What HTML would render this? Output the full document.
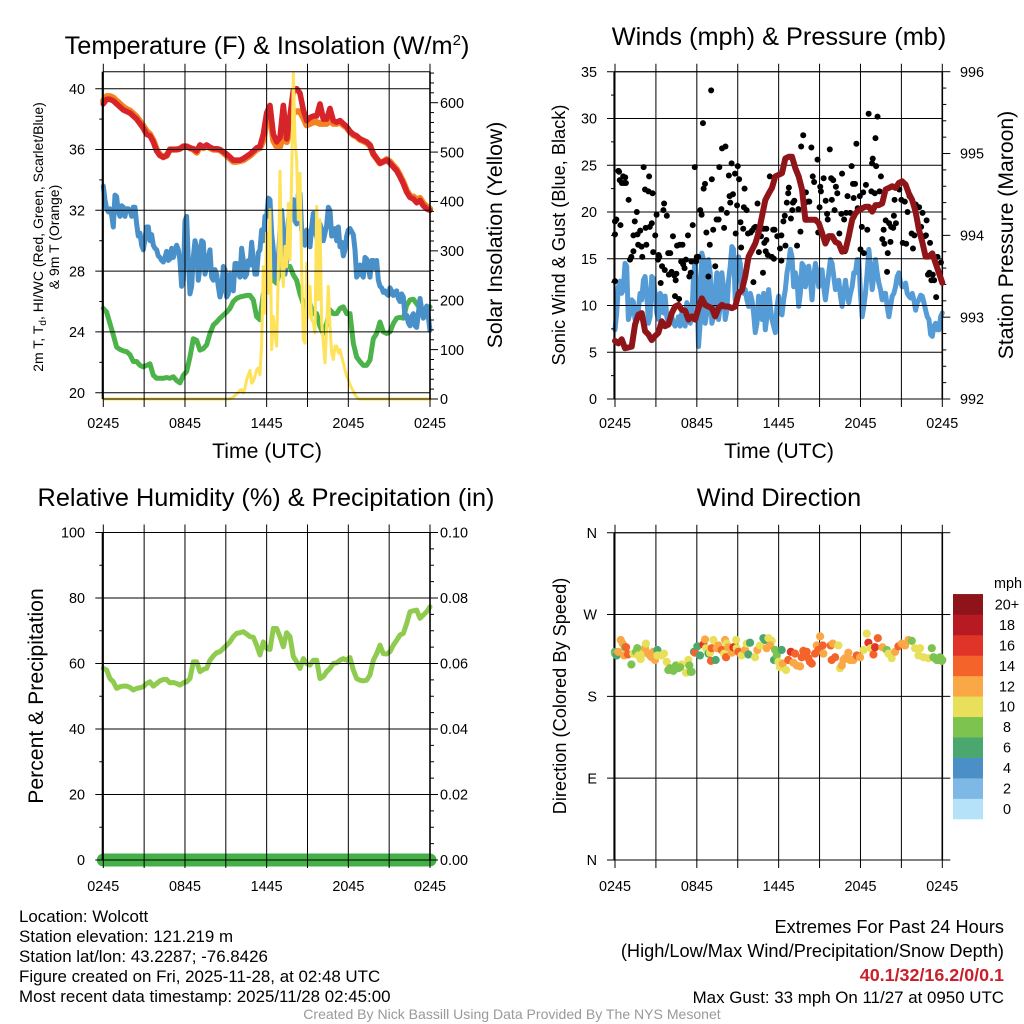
<!DOCTYPE html>
<html lang="en">
<head>
<meta charset="utf-8">
<title>Wolcott Mesonet Meteogram</title>
<style>
html,body{margin:0;padding:0;background:#fff;}
svg{display:block;font-family:"Liberation Sans",Arial,sans-serif;fill:#000;}
.title{font-size:25.3px;text-anchor:middle;}
.axt{font-size:21.2px;text-anchor:middle;}
.axs{font-size:18.2px;text-anchor:middle;}
.foot{font-size:16.9px;}
.tr{font-size:18.2px;text-anchor:end;}
.tick{font-size:14.4px;}
</style>
</head>
<body>
<svg id="chart" xmlns="http://www.w3.org/2000/svg" width="1024" height="1024" viewBox="0 0 1024 1024">
<rect x="0" y="0" width="1024" height="1024" fill="#fff"/>

<g id="p1"></g>
<g id="p2"></g>
<g id="p3"></g>
<g id="p4"></g>
<g id="legend"></g>

<text class="title" x="267" y="54">Temperature (F) &amp; Insolation (W/m<tspan dy="-9" font-size="15">2</tspan><tspan dy="9">)</tspan></text>
<text class="title" x="779" y="45">Winds (mph) &amp; Pressure (mb)</text>
<text class="title" x="266" y="506">Relative Humidity (%) &amp; Precipitation (in)</text>
<text class="title" x="779" y="506">Wind Direction</text>

<text class="axt" x="267" y="458">Time (UTC)</text>
<text class="axt" x="779" y="458">Time (UTC)</text>

<text font-size="14" text-anchor="middle" transform="translate(43,237) rotate(-90)">2m T, T<tspan dy="3" font-size="10">d</tspan><tspan dy="-3">, HI/WC (Red, Green, Scarlet/Blue)</tspan></text>
<text font-size="14" text-anchor="middle" transform="translate(59,237) rotate(-90)">&amp; 9m T (Orange)</text>
<text class="axt" transform="translate(502,235) rotate(-90)">Solar Insolation (Yellow)</text>
<text class="axs" transform="translate(565,235) rotate(-90)">Sonic Wind &amp; Gust (Blue, Black)</text>
<text class="axt" transform="translate(1013,235) rotate(-90)">Station Pressure (Maroon)</text>
<text class="axt" transform="translate(43,696) rotate(-90)">Percent &amp; Precipitation</text>
<text class="axs" transform="translate(566,696) rotate(-90)">Direction (Colored By Speed)</text>

<g>
<text class="foot" x="19" y="922">Location: Wolcott</text>
<text class="foot" x="19" y="942">Station elevation: 121.219 m</text>
<text class="foot" x="19" y="962">Station lat/lon: 43.2287; -76.8426</text>
<text class="foot" x="19" y="982">Figure created on Fri, 2025-11-28, at 02:48 UTC</text>
<text class="foot" x="19" y="1002">Most recent data timestamp: 2025/11/28 02:45:00</text>
</g>
<g>
<text class="tr" x="1004" y="933">Extremes For Past 24 Hours</text>
<text class="tr" x="1004" y="957">(High/Low/Max Wind/Precipitation/Snow Depth)</text>
<text class="tr" x="1004" y="981" font-weight="bold" style="fill:#c9202b;font-size:17.9px">40.1/32/16.2/0/0.1</text>
<text class="tr" x="1004" y="1003" style="font-size:16.9px">Max Gust: 33 mph On 11/27 at 0950 UTC</text>
</g>
<text x="512" y="1019" text-anchor="middle" font-size="14.05" style="fill:#999">Created By Nick Bassill Using Data Provided By The NYS Mesonet</text>

<script>
// ---- Shared time axis (hours since start of window) ----
const timeSpanHours = 24;
const gridHours = [0,3,6,9,12,15,18,21,24];
const timeLabelHours = [0,6,12,18,24];
const timeLabels = ['0245','0845','1445','2045','0245'];

// ---- Temperature panel series ----
const airTemp = [39.0,39.3,39.3,39.2,39.0,38.8,38.6,38.5,38.4,38.2,38.0,37.7,37.4,37.0,36.9,36.5,35.9,35.6,35.5,35.6,36.0,36.0,36.0,36.05,36.2,36.2,36.1,36.05,35.9,36.3,36.15,36.3,36.15,36.05,36.05,36.0,35.85,35.7,35.5,35.3,35.3,35.3,35.4,35.55,35.7,35.9,36.1,36.2,37.0,38.4,38.9,37.0,36.5,36.8,38.9,36.7,38.2,39.9,40.0,39.7,38.6,37.9,38.1,38.2,38.2,39.0,38.0,38.0,38.7,37.9,37.8,37.9,37.7,37.5,37.2,37.0,36.9,36.7,36.6,36.5,36.3,35.7,35.4,35.1,35.2,35.3,35.1,34.85,34.6,34.2,33.75,33.2,32.85,32.75,32.5,32.65,32.3,32.1,32.0];
const temp9m = [39.2,39.5,39.5,39.4,39.2,39.0,38.8,38.65,38.55,38.35,38.15,37.85,37.55,37.2,37.0,36.6,36.0,35.65,35.5,35.6,36.0,36.0,36.0,36.05,36.2,36.2,36.1,36.0,35.8,36.2,36.1,36.25,36.1,36.0,36.0,35.95,35.8,35.6,35.4,35.2,35.2,35.25,35.3,35.45,35.6,35.8,36.0,36.1,36.6,37.9,38.5,36.6,36.2,36.2,37.0,36.5,37.3,38.5,38.5,38.5,38.1,37.6,37.7,37.8,37.8,37.7,37.7,37.7,37.9,37.7,37.7,37.8,37.6,37.45,37.15,36.95,36.85,36.65,36.55,36.45,36.25,35.7,35.4,35.1,35.2,35.35,35.2,34.95,34.7,34.3,33.85,33.3,32.95,32.9,32.7,32.8,32.45,32.25,32.1];
const windChill = [33.6,32.7,32.1,31.9,32.1,31.7,30.9,33.0,32.9,31.9,31.6,32.3,32.2,31.6,32.1,32.1,32.0,31.6,32.2,32.2,31.1,30.3,30.5,29.7,29.4,30.1,30.9,30.9,30.0,30.4,29.7,29.5,29.4,29.0,28.9,28.7,28.6,28.9,29.3,28.7,28.8,29.5,28.9,29.4,29.7,29.4,28.7,27.0,27.4,31.3,31.6,28.7,26.5,27.0,28.9,30.0,29.6,27.4,28.3,30.0,29.9,27.8,28.3,28.9,29.4,27.6,27.4,28.1,27.8,27.0,26.3,26.7,28.3,28.1,26.3,26.5,27.8,27.4,26.7,28.5,28.5,27.8,27.6,29.5,28.7,27.6,27.8,28.7,28.4,29.9,28.7,27.8,27.8,29.2,29.4,30.7,30.0,31.6,31.6,32.8,32.7,30.5,29.4,27.8,27.4,28.7,30.7,32.0,30.5,27.8,28.7,31.3,32.0,32.4,32.7,31.3,31.1,33.1,33.1,30.7,30.3,29.7,30.7,30.5,29.6,30.9,31.8,30.5,30.3,29.6,31.1,30.7,30.0,30.5,31.0,32.2,32.0,30.3,30.5,30.8,30.0,30.9,29.6,29.9,29.0,29.4,30.3,30.7,30.8,30.6,30.4,29.4,27.6,27.8,28.4,27.8,27.6,28.9,28.8,28.2,27.6,28.7,28.7,28.2,28.7,27.4,27.0,26.9,26.6,26.7,26.5,26.4,26.9,26.7,26.4,26.6,26.7,26.2,26.0,26.5,26.3,25.0,25.1,24.6,24.4,25.0,25.2,24.4,24.3,25.2,26.2,25.5,24.9,25.2,25.7,25.0,24.1];
const dewPoint = [25.55,25.3,24.55,23.8,23.0,22.85,22.75,22.7,22.5,22.05,22.05,21.8,21.7,21.8,21.9,21.15,20.95,20.95,20.95,21.0,20.95,21.05,20.8,20.65,21.15,21.4,22.35,23.55,23.45,22.8,22.9,23.15,23.9,24.45,24.65,24.9,25.1,25.3,25.55,26.0,26.2,26.3,26.35,26.4,26.4,26.1,25.0,24.8,26.5,26.95,27.85,27.4,27.2,28.05,28.3,28.3,28.3,27.75,27.4,26.5,25.85,25.0,25.85,25.2,25.2,24.35,23.9,24.55,25.45,25.2,25.2,25.55,25.65,25.2,25.2,23.25,22.35,22.05,21.8,21.8,22.15,23.55,23.9,24.65,24.0,23.9,24.0,24.55,24.9,24.95,24.9,25.75,26.1,26.15,25.85,25.55,25.45,25.55,25.65];
const solarInsolation = [0,0,0,0,0,0,0,0,0,0,0,0,0,0,0,0,0,0,0,0,
0,0,0,0,0,0,0,0,0,0,0,0,0,0,0,0,0,0,0,0,
0,0,0,0,0,0,0,0,0,0,0,0,0,0,0,0,0,0,0,0,
0,0,0,0,0,0,0,0,0,0,0,0,0,0,0,0,
1,2,4,7,10,13,18,19,12,22,39,49,58,32,36,46,59,63,49,113,268,174,336,214,383,100,167,134,107,255,461,268,228,309,268,396,282,450,659,525,484,363,457,268,120,113,275,167,228,160,155,134,390,201,363,155,113,73,147,228,147,93,80,107,107,93,100,86,73,59,46,39,29,22,16,9,4,1,
0,0,0,0,0,0,0,0,0,0,0,0,0,0,0,0,0,0,0,0,0,0,0,0,0,0,0,0,0,0,0,0,0,0,0,0,0,0,0,0,0,0,0];

const tempTicks = [20,24,28,32,36,40];
const tempMinorTicks = [22,26,30,34,38];
const solarTicks = [0,100,200,300,400,500,600];
const solarMinorTicks = [20,40,60,80,120,140,160,180,220,240,260,280,320,340,360,380,420,440,460,480,520,540,560,580,620,640,660];

// ---- Winds panel series ----
const windSpeed = [7.4,9.2,12.0,12.6,11.3,11.7,14.5,14.2,8.5,9.2,10.6,10.4,8.5,8.5,9.5,11.3,10.6,12.7,13.1,11.3,8.1,8.8,13.1,12.9,11.3,9.2,8.5,11.3,11.0,9.2,11.0,8.8,8.1,8.7,8.8,8.1,7.8,8.1,8.8,7.8,9.2,8.8,7.8,10.3,9.9,8.1,8.5,13.1,14.9,12.0,5.6,8.1,15.6,14.9,8.1,9.2,14.9,13.5,8.1,8.8,11.7,13.5,8.5,9.9,13.5,12.0,8.5,9.5,12.7,14.2,16.3,16.0,10.6,13.5,15.2,14.5,11.7,11.3,11.7,10.6,9.9,11.3,10.6,9.2,7.1,8.1,11.0,8.8,8.5,11.3,7.4,8.8,11.7,9.9,8.5,7.8,7.1,9.9,11.0,9.2,9.0,10.6,11.7,13.5,14.5,16.0,15.2,12.0,13.5,12.7,9.9,11.3,14.5,14.2,12.0,13.5,14.2,12.7,10.6,13.1,14.5,13.5,12.0,13.8,13.8,12.0,10.6,12.0,13.5,14.9,14.5,13.1,11.7,12.4,12.7,11.0,9.9,11.3,12.7,11.3,10.3,11.3,12.0,13.5,13.5,14.9,14.9,11.3,8.8,9.9,11.3,13.5,16.0,14.2,11.7,13.1,14.9,13.5,12.4,11.7,10.6,11.3,11.3,9.9,8.8,9.9,11.0,11.3,12.0,13.1,13.5,12.4,12.0,12.0,12.4,11.3,11.0,10.8,11.3,10.6,9.5,10.3,10.6,11.1,11.0,10.3,9.5,8.8,8.5,6.9,6.7,7.8,8.1,7.4,7.4,8.8,9.2];
const stationPressure = [992.71,992.68,992.73,992.62,992.63,992.64,992.91,993.03,993.05,992.83,992.79,992.72,992.77,992.81,992.95,992.89,992.91,993.05,993.13,993.15,993.09,993.08,992.97,993.01,992.97,993.11,993.23,993.15,993.13,993.11,993.01,993.11,993.15,993.13,993.13,993.11,993.13,993.29,993.33,993.50,993.74,993.82,993.90,994.03,994.23,994.43,994.51,994.58,994.72,994.74,994.76,994.94,994.96,994.96,994.82,994.72,994.56,994.19,994.19,994.19,994.19,994.15,994.03,993.90,993.99,993.99,993.92,993.90,993.80,993.82,993.99,994.19,994.27,994.31,994.33,994.35,994.35,994.29,994.37,994.37,994.39,994.56,994.58,994.60,994.58,994.64,994.66,994.62,994.51,994.43,994.29,994.07,993.92,993.74,993.74,993.78,993.66,993.54,993.42];
const gustHours = [0,0,0,.1,.25,.3,.4,.35,.5,.6,.75,.65,.8,1.0,
1.1,1.2,1.35,1.35,1.45,1.6,1.65,1.85,1.7,1.95,2.0,2.1,
2.2,2.25,2.3,2.45,2.5,2.55,2.7,2.75,2.8,2.95,3.05,
3.15,3.2,3.25,3.35,3.45,3.55,3.6,3.65,3.8,3.95,3.9,
4.05,4.15,4.25,4.35,4.45,4.4,4.5,4.55,4.7,4.75,4.85,4.95,
5.0,5.1,5.2,5.35,5.45,5.55,5.7,5.6,5.85,6.0,5.95,
6.1,6.25,6.35,6.45,6.5,6.6,6.7,6.85,6.95,7.05,
7.1,7.2,7.35,7.45,7.65,7.6,7.8,7.85,8.0,8.1,
8.2,8.35,8.4,8.45,8.55,8.65,8.8,8.85,8.95,9.0,
9.1,9.2,9.25,9.4,9.5,9.45,9.65,9.75,9.95,10.05,
10.15,10.2,10.45,10.3,10.55,10.5,10.85,10.9,10.7,11.05,10.95,11.1,
11.1,11.2,11.35,11.5,11.6,11.7,11.65,11.9,
12.1,12.2,12.2,12.35,12.45,12.5,12.7,12.75,12.6,12.9,13.0,
13.05,13.15,13.35,13.45,13.6,13.65,13.8,13.9,14.0,13.95,
14.15,14.25,14.4,14.5,14.6,14.85,14.9,15.0,15.05,
15.1,15.3,15.45,15.55,15.6,15.75,15.85,16.0,15.9,
16.2,16.3,16.1,16.45,16.6,16.65,16.8,16.85,16.95,
17.05,17.25,17.35,17.45,17.6,17.7,17.5,17.8,17.95,18.0,
18.1,18.2,18.25,18.4,18.5,18.6,18.8,18.9,18.85,
19.05,19.1,19.25,19.15,19.4,19.5,19.6,19.7,19.75,19.85,19.95,20.0,
20.1,20.2,20.25,20.4,20.45,20.5,20.6,20.85,21.0,
21.1,21.25,21.35,21.45,21.6,21.75,21.85,21.95,
22.05,22.3,22.45,22.55,22.7,22.85,22.95,22.8,23.1,
23.05,23.2,23.3,23.4,23.55,23.65,23.9];
const gustSpeed = [12.6,17.6,19.0,19.2,24.4,24.3,18.6,23.4,23.1,23.8,23.7,23.1,23.1,21.3,
14.9,15.2,17.5,15.8,19,20,17.6,18,16.5,16.3,15.2,24.8,
22.4,18.3,16.5,22.2,23.8,18.4,18.8,22,15.7,17.5,19.7,
14.9,15.4,15.2,12.4,14.2,20.2,20.9,13.8,19.6,13.3,15.6,
15.6,13.6,17.4,13.2,12.7,11,13.4,16.4,10.7,16.5,14.7,16.5,
14.4,14,14.9,17.5,13.1,13.5,18.6,14.7,24.8,15.2,14.7,
15.2,20.2,19.7,29.5,22.5,23,17.8,13.1,16.5,33,
23.5,18.1,14.2,19.2,24.8,19.2,20.3,26.8,18.3,27,
19.9,23.9,21.7,21,25.2,21.9,24.1,17.7,20.7,24.9,
23.5,18.9,16.2,18.2,22.5,20.5,20.2,17.7,17.8,18,
12.5,18.3,20.9,18.4,15.7,17.8,13.5,18.2,17.4,15.8,16.7,17,
18.2,15.4,23.8,15.2,18.1,18.1,15,17.4,
16.1,14.8,17.5,19,19.6,16.4,22,22.6,21,19.3,20.2,
21,21.2,16.4,20.3,17.9,27,28.2,22.1,22.1,21,
21.1,21.1,26.9,23.8,23.2,25.6,17.8,20.5,22.7,
22.2,23.6,21.2,19.8,19.2,26.7,23.6,23.4,21.3,
22.7,22,20.2,17.7,19.8,24.1,19.2,15.8,19.9,
21.7,19.9,24.9,23,23,27.3,21.5,20.4,21.7,16,
18.4,22.1,15.6,22.9,18.1,30.5,22.2,25.7,25.2,
22,27.9,30.2,24.9,22.2,23.8,17.1,18.1,16.6,19.1,13.6,15.6,
18.8,16.8,18.4,18.3,19.6,21.3,18.8,22.4,21.3,
16.7,21.1,16.6,20,21.7,17.7,16.1,17.5,
20.8,20.5,18.4,19.9,17.4,19.1,13.3,17.5,16.7,
13.5,12.7,13.3,12.7,10.9,15.2,14.6];

const windTicks = [0,5,10,15,20,25,30,35];
const windMinorTicks = [2.5,7.5,12.5,17.5,22.5,27.5,32.5];
const pressureTicks = [992,993,994,995,996];
const pressureMinorTicks = [992.2,992.4,992.6,992.8,993.2,993.4,993.6,993.8,994.2,994.4,994.6,994.8,995.2,995.4,995.6,995.8];

// ---- Humidity panel series ----
const relativeHumidity = [58.5,58,55.4,54.4,52.4,52.9,53.1,53.1,52.7,51.9,52.4,52.6,52.9,53.9,54.4,53.1,53.9,54.7,55.1,55.1,54.1,54.2,53.9,53.4,54.1,54.4,55.4,60.5,60.5,57.5,58.2,58.5,61,62.3,63.3,63.6,64.6,65.6,66.6,68.2,69.2,69.4,69.7,69,68.2,68,65.6,62.6,66.6,64.6,64.3,70.7,70.7,68.2,65.1,69.4,68.2,62.1,60.5,58.5,61.5,60,59.5,61,61,55.4,56,57.5,58.5,60,60.2,61,61.5,61,61.8,58,55.4,54.9,54.7,54.9,56.5,61,63,65.6,63,62.9,63.6,65.6,67.1,68.7,69.2,72.2,75.8,76.1,76.3,73.8,74.8,75.8,77.3];
const precipitation = [0,0,0,0,0,0,0,0,0,0,0,0,0,0,0,0,0,0,0,0,0,0,0,0,0];
const percentTicks = [0,20,40,60,80,100];
const percentMinorTicks = [10,30,50,70,90];
const precipTicks = [0,0.02,0.04,0.06,0.08,0.10];
const precipTickLabels = ['0.00','0.02','0.04','0.06','0.08','0.10'];
const precipMinorTicks = [0.005,0.01,0.015,0.025,0.03,0.035,0.045,0.05,0.055,0.065,0.07,0.075,0.085,0.09,0.095];

// ---- Wind direction panel series ----
const dirHours = [0,0,.12,.24,.42,.56,.73,.81,.66,.95,1.2,1.34,1.54,1.64,1.71,1.88,2.03,2.2,2.27,2.44,2.57,2.69,2.81,2.93,3.11,3.11,3.42,3.59,3.79,4.03,4.16,4.33,4.47,4.89,4.77,5.21,5.38,5.55,5.45,5.79,5.87,6.04,6.23,6.48,6.6,6.67,6.85,6.97,7.09,7.04,7.21,7.38,7.46,7.58,7.82,8.0,8.14,8.07,8.19,8.31,8.56,8.68,8.88,8.92,9.05,9.29,9.54,9.78,9.66,9.9,10.27,10.44,10.64,10.88,11.0,11.25,11.49,11.37,11.12,11.74,11.66,11.86,12.22,11.98,12.1,12.3,12.54,12.71,12.89,13.2,13.08,13.33,13.57,13.81,13.69,14.06,14.18,14.3,14.43,14.67,14.79,15.04,14.91,15.28,15.23,15.82,15.97,16.38,15.89,16.14,16.5,16.63,16.75,16.87,17.11,17.24,17.48,17.73,17.97,18.22,18.46,18.58,18.75,18.95,19.07,19.27,19.61,19.93,20.05,20.29,20.54,20.78,21.03,21.27,21.52,21.76,22.0,22.37,22.25,22.62,22.98,23.23,23.35,23.59,23.84,24,3.91,4.28,4.65,5.62,23.47,23.72,23.96];
const dirDegrees = [229,227,225,229,242,238,234,234,225,226,215,227,229,233,225,221,227,233,238,227,225,223,229,220,231,225,225,227,218,211,209,211,214,215,212,206,220,207,214,229,228,235,225,237,242.5,233,227,228,233,219,242,220,233,236,231,227,223,242,238,234,228,234,242,233,229,225,231,226,238,239,223,231,236,244,242,244,241,236,233,231,220,225,231,218,212,216,209,220,229,227,217,214,213,230,223,229,222,218,216,227,236,246,231,227,236,236,238,236,220,223,211,214,220,222,228,220,220,225,223,231,249,239,233,226,234,244,234,231,227,222,229,235,238,236,242,241,233,233,225,223,222,233,223,220,223,220,209,208,211,207,222,220,219];
const dirSpeeds = [6,8,6,12,12,12,8,14,12,14,8,10,8,8,10,10,10,12,10,12,12,12,12,12,6,10,10,10,10,8,8,8,8,10,8,10,10,8,8,6,14,6,6,16,12,10,6,10,14,14,10,6,12,12,14,10,14,12,10,12,12,16,10,10,14,10,12,6,10,6,10,12,10,6,6,10,10,12,12,8,6,8,6,10,10,12,10,14,16,14,12,12,12,14,14,14,14,14,14,14,12,12,14,12,14,14,12,10,14,14,10,12,12,12,12,12,12,14,12,10,10,16,10,14,16,14,12,8,10,10,12,14,12,12,12,8,10,10,10,10,10,8,8,8,8,8,8,8,8,8,8,8,8];
const dirTicks = [0,90,180,270,360];
const dirTickLabels = ['N','E','S','W','N'];

// ---- Colorbar (bottom to top) ----
const legendLabels = ['0','2','4','6','8','10','12','14','16','18','20+'];
const legendColors = ['#b5e2f8','#7eb8e5','#4a8fc5','#4aa86f','#7cc34f','#e8e05a','#faa845','#f4632a','#e03428','#b81a24','#8f1419'];

// ---- Scales ----
const SVGNS = 'http://www.w3.org/2000/svg';
function linear(d0, d1, r0, r1) { return function (v) { return r0 + (v - d0) / (d1 - d0) * (r1 - r0); }; }
const xLeft = linear(0, timeSpanHours, 103.3, 430);
const xRight = linear(0, timeSpanHours, 615, 942.3);
const yTemp = linear(20, 40, 392.7, 88.7);
const ySolar = linear(0, 600, 399, 102.7);
const yWind = linear(0, 35, 399, 71.7);
const yPressure = linear(992, 996, 399, 71.7);
const yPercent = linear(0, 100, 860, 532.5);
const yPrecip = linear(0, 0.1, 860, 532.5);
const yDir = linear(0, 360, 860, 532.7);

function add(parent, tag, attrs) {
  const el = document.createElementNS(SVGNS, tag);
  for (const k in attrs) el.setAttribute(k, attrs[k]);
  parent.appendChild(el);
  return el;
}
function seriesPoints(values, xs, ys) {
  return values.map(function (v, i) { return xs(i / (values.length - 1) * timeSpanHours).toFixed(2) + ',' + ys(v).toFixed(2); }).join(' ');
}
function drawLine(parent, values, xs, ys, color, width) {
  return add(parent, 'polyline', { points: seriesPoints(values, xs, ys), fill: 'none', stroke: color, 'stroke-width': width, 'stroke-linejoin': 'round', 'stroke-linecap': 'round' });
}
function drawFrame(parent, xs, yTop, yBot, yLeftFn, leftMajor, leftMinor, yRightFn, rightMajor, rightMinor) {
  const x0 = xs(0), x1 = xs(timeSpanHours);
  const g = add(parent, 'g', { stroke: '#000', 'stroke-width': 1, fill: 'none' });
  
  
  gridHours.forEach(function (h) {
    const v = add(g, 'line', { x1: xs(h), x2: xs(h), y1: yTop - 8, y2: yBot + 8 });
    
    
  });
  leftMajor.forEach(function (t) {
    const l = add(g, 'line', { x1: x0 - 8, x2: x1, y1: yLeftFn(t), y2: yLeftFn(t) });
    
    
  });
  leftMinor.forEach(function (t) {
    const l = add(g, 'line', { x1: x0 - 4, x2: x0, y1: yLeftFn(t), y2: yLeftFn(t) });
    
    
  });
  rightMajor.forEach(function (t) {
    const l = add(g, 'line', { x1: x1, x2: x1 + 8, y1: yRightFn(t), y2: yRightFn(t) });
    
    
  });
  rightMinor.forEach(function (t) {
    const l = add(g, 'line', { x1: x1, x2: x1 + 4, y1: yRightFn(t), y2: yRightFn(t) });
    
    
  });
  const top = add(g, 'line', { x1: x0, x2: x1, y1: yTop, y2: yTop });
  
  
  const bot = add(g, 'line', { x1: x0, x2: x1, y1: yBot, y2: yBot });
  
  
  const ls = add(g, 'line', { x1: x0 - 0.6, x2: x0 - 0.6, y1: yTop, y2: yBot, 'stroke-width': 2 });
  
  
  const rs = add(g, 'line', { x1: x1, x2: x1, y1: yTop, y2: yBot, 'stroke-width': 1.6 });
  
  
}
function drawTimeLabels(parent, xs, baseY) {
  timeLabelHours.forEach(function (h, i) {
    const t = add(parent, 'text', { x: xs(h), y: baseY, 'text-anchor': 'middle', class: 'tick' });
    t.textContent = timeLabels[i];
    
    
  });
}
function drawYLabels(parent, ticks, labels, ys, x, anchor) {
  ticks.forEach(function (v, i) {
    const t = add(parent, 'text', { x: x, y: ys(v) + 5.2, 'text-anchor': anchor, class: 'tick' });
    t.textContent = labels[i];
    
    
  });
}

// ---- Panel 1: temperature ----
const p1 = document.getElementById('p1');
const s9m = drawLine(p1, temp9m, xLeft, yTemp, '#f58220', 6.4);


const sDew = drawLine(p1, dewPoint, xLeft, yTemp, '#4cb34a', 5);


const sChill = drawLine(p1, windChill, xLeft, yTemp, '#4a90c8', 5);


const sAir = drawLine(p1, airTemp, xLeft, yTemp, '#d7232a', 5.6);


const sSolar = drawLine(p1, solarInsolation, xLeft, ySolar, '#fde25a', 3);


drawFrame(p1, xLeft, 71.7, 399, yTemp, tempTicks, tempMinorTicks, ySolar, solarTicks, solarMinorTicks);
drawTimeLabels(p1, xLeft, 428);
drawYLabels(p1, tempTicks, tempTicks.map(String), yTemp, 85, 'end');
drawYLabels(p1, solarTicks, solarTicks.map(String), ySolar, 440, 'start');

// ---- Panel 2: winds ----
const p2 = document.getElementById('p2');
const sWind = drawLine(p2, windSpeed, xRight, yWind, '#559bd5', 5);


drawFrame(p2, xRight, 71.7, 399, yWind, windTicks, windMinorTicks, yPressure, pressureTicks, pressureMinorTicks);
const gustGroup = add(p2, 'g', { fill: '#000' });


gustSpeed.forEach(function (v, i) {
  const c = add(gustGroup, 'circle', { cx: xRight(gustHours[i]), cy: yWind(v), r: 3 });
  
  
});
const sPress = drawLine(p2, stationPressure, xRight, yPressure, '#8f1519', 6);


drawTimeLabels(p2, xRight, 428);
drawYLabels(p2, windTicks, windTicks.map(String), yWind, 597, 'end');
drawYLabels(p2, pressureTicks, pressureTicks.map(String), yPressure, 960, 'start');

// ---- Panel 3: humidity ----
const p3 = document.getElementById('p3');
const sRh = drawLine(p3, relativeHumidity, xLeft, yPercent, '#8fcb4e', 5);


const sPrecip = drawLine(p3, precipitation, xLeft, yPrecip, '#46b048', 13);


drawFrame(p3, xLeft, 532.5, 860, yPercent, percentTicks, percentMinorTicks, yPrecip, precipTicks, precipMinorTicks);
drawTimeLabels(p3, xLeft, 891);
drawYLabels(p3, percentTicks, percentTicks.map(String), yPercent, 85, 'end');
drawYLabels(p3, precipTicks, precipTickLabels, yPrecip, 440, 'start');

// ---- Panel 4: wind direction ----
const p4 = document.getElementById('p4');
drawFrame(p4, xRight, 532.7, 860, yDir, dirTicks, [], yDir, dirTicks, []);
const dirGroup = add(p4, 'g', {});


function speedColor(s) {
  const idx = Math.min(legendColors.length - 1, Math.max(0, Math.round(s / 2)));
  return legendColors[idx];
}
dirDegrees.forEach(function (d, i) {
  const c = add(dirGroup, 'circle', { cx: xRight(dirHours[i]), cy: yDir(d), r: 4.1, fill: speedColor(dirSpeeds[i]) });
  
  
});
drawTimeLabels(p4, xRight, 891);
drawYLabels(p4, dirTicks, dirTickLabels, yDir, 597, 'end');

// ---- Colorbar ----
const legendEl = document.getElementById('legend');
const legendBottom = 819;
const legendBoxH = 20.45;
legendColors.forEach(function (col, i) {
  const boxY = legendBottom - (i + 1) * legendBoxH;
  const r = add(legendEl, 'rect', { x: 953, y: boxY, width: 30, height: legendBoxH + 0.3, fill: col });
  
  
  const t = add(legendEl, 'text', { x: 1007, y: boxY + legendBoxH / 2 + 5.2, 'text-anchor': 'middle', class: 'tick' });
  t.textContent = legendLabels[i];
  
  
});
const unitLabel = add(legendEl, 'text', { x: 1008, y: 588, 'text-anchor': 'middle', class: 'tick' });
unitLabel.textContent = 'mph';


</script>
</svg>
</body>
</html>
